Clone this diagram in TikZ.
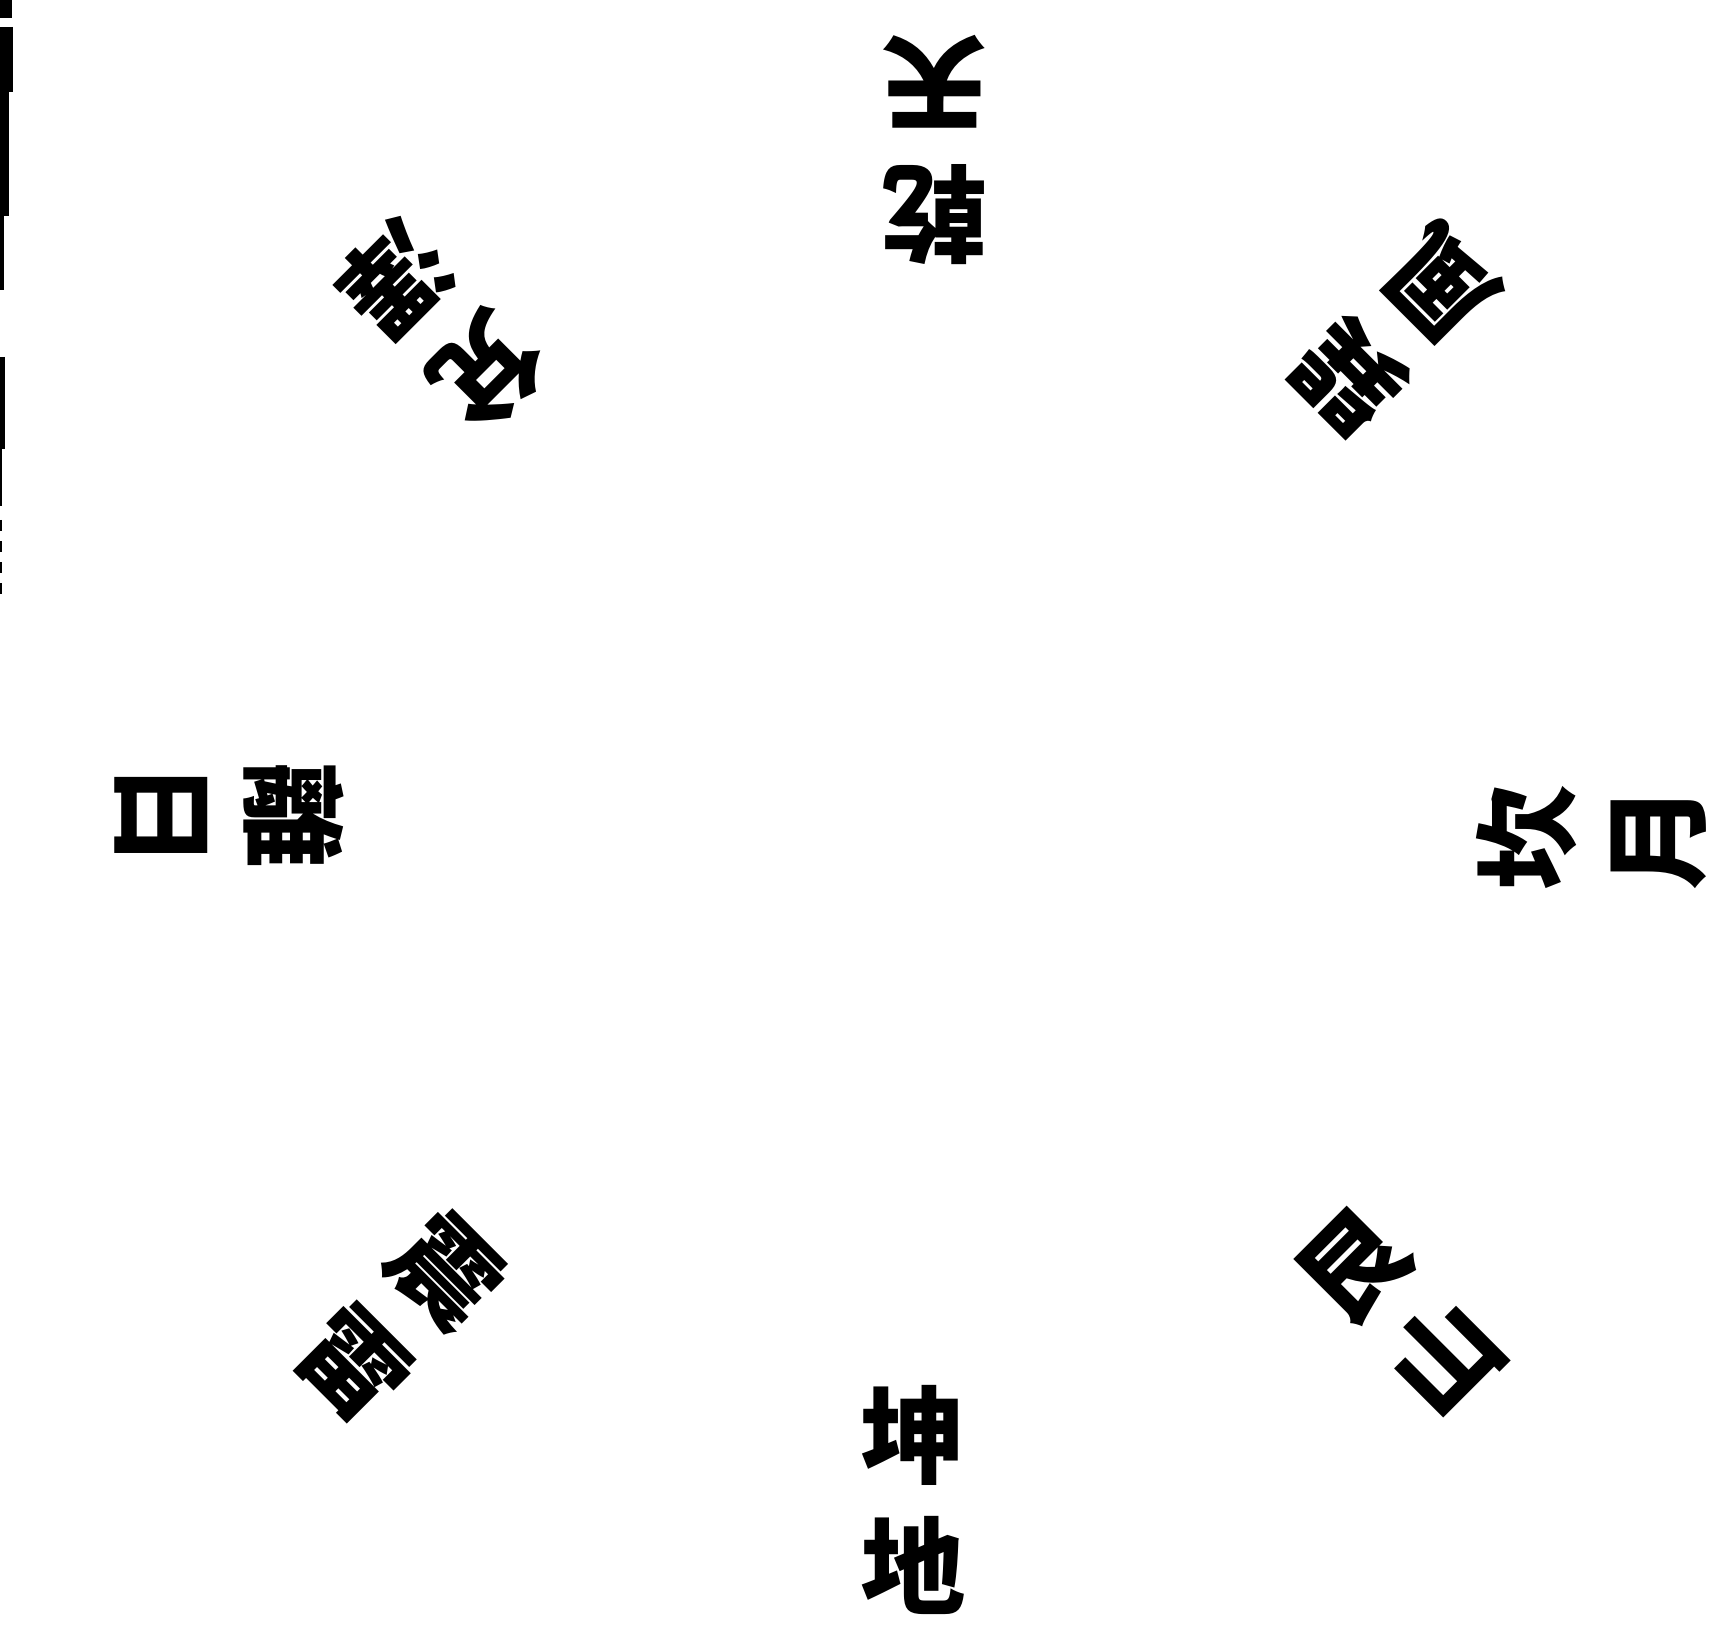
\documentclass[tikz,border=0pt]{standalone}
\usepackage{fontspec}
\newfontfamily\cjk{Noto Sans CJK TC}
\usetikzlibrary{positioning}
\tikzset{
  guaname/.style={font=\cjk\bfseries\fontsize{30}{37}\selectfont,align=center,inner sep=0pt},
  edgeline/.style={draw=black,line cap=butt}
}
\begin{document}
\begin{tikzpicture}
\useasboundingbox (0,0) rectangle (17.29,16.25);
% eight trigram names round the circle, character tops facing the centre
\node[guaname, rotate=180] (qian) at (9.35,14.75) {乾\\天};
\node[guaname, rotate=225] (dui) at (4.41,13.00) {兌\\澤};
\node[guaname, rotate=135] (xun) at (13.95,12.95) {巽\\風};
\node[guaname, rotate=-90] (li) at (2.29,8.10) {離\\日};
\node[guaname, rotate=90] (kan) at (15.91,7.87) {坎\\月};
\node[guaname, rotate=-45] (zhen) at (4.00,3.08) {震\\雷};
\node[guaname, rotate=45] (gen) at (14.00,3.12) {艮\\山};
\node[guaname] (kun) at (9.13,1.25) {坤\\地};

% page edge left by the scan
\coordinate (e0) at (0.06,16.25);
\coordinate (e1) at (0.06,16.07);
\coordinate (e2) at (0.065,15.98);
\coordinate (e3) at (0.065,15.33);
\coordinate (e4) at (0.045,14.09);
\coordinate (e5) at (0.02,13.35);
\coordinate (e6) at (0.025,12.68);
\coordinate (e7) at (0.025,11.76);
\coordinate (e8) at (0.01,11.19);
\coordinate (e9) at (0.01,11.05);
\coordinate (e10) at (0.01,10.31);
\draw[edgeline, line width=3.4pt] (e0) -- (e1);
\draw[edgeline, line width=3.7pt] (e2) -- (e3);
\draw[edgeline, line width=2.5pt] (e3 -| e4) -- (e4);
\draw[edgeline, line width=1.1pt] (e4 -| e5) -- (e5);
\draw[edgeline, line width=1.4pt] (e6) -- (e7);
\draw[edgeline, line width=0.6pt] (e7 -| e8) -- (e8);
\draw[edgeline, line width=0.6pt, dashed] (e9) -- (e10);
\end{tikzpicture}
\end{document}
